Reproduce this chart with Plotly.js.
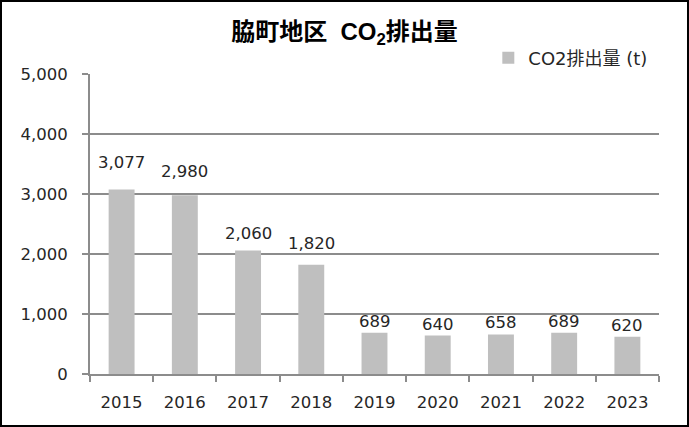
<!DOCTYPE html>
<html>
<head>
<meta charset="utf-8">
<script src="https://cdn.plot.ly/plotly-3.0.1.min.js"></script>
<style>
html,body{margin:0;padding:0;background:#fff;}
#wrap{position:relative;width:689px;height:427px;}
#chart{width:689px;height:427px;}
#frame{position:absolute;left:0;top:0;width:689px;height:427px;box-sizing:border-box;border:2px solid #000;pointer-events:none;}
</style>
</head>
<body>
<div id="wrap"><div id="chart"></div><div id="frame"></div></div>
<script>
const years = ["2015","2016","2017","2018","2019","2020","2021","2022","2023"];
const co2 = [3077, 2980, 2060, 1820, 689, 640, 658, 689, 620];
const seriesName = "CO2排出量 (t)";
const yTicks = [0, 1000, 2000, 3000, 4000, 5000];
const yTickLabels = ["0", "1,000", "2,000", "3,000", "4,000", "5,000"];
// label gap (px) above each bar, as in the reference
const labelGap = [15, 12, 5, 10, 0, 0, 1, 0, 0];

const latinFont = "DejaVu Sans, Noto Sans CJK JP, sans-serif";
const tickFont = {family: latinFont, size: 16.5, color: "#262626"};

const annotations = years.map((yr, i) => ({
  x: i, y: co2[i], xref: "x", yref: "y",
  text: co2[i].toLocaleString("en-US"),
  showarrow: false, yanchor: "bottom", xanchor: "center",
  yshift: labelGap[i],
  font: tickFont
}));

Plotly.newPlot("chart", [{
  type: "bar",
  x: years,
  y: co2,
  name: seriesName,
  marker: {color: "#BFBFBF"},
  hoverinfo: "none"
}], {
  width: 689, height: 427,
  margin: {l: 90, r: 30, t: 74, b: 53},
  paper_bgcolor: "#fff",
  plot_bgcolor: "#fff",
  bargap: 0.59,
  showlegend: true,
  annotations: annotations,
  title: {
    text: "脇町地区\u00a0\u00a0CO<sub>2</sub>排出量",
    x: 0.5, xanchor: "center",
    y: 1 - 32/427, yanchor: "middle",
    font: {family: "Liberation Sans, Noto Sans CJK JP, sans-serif", size: 24, color: "#000", weight: "bold"}
  },
  legend: {
    x: 0.99, xanchor: "right",
    y: 1 + 16/300, yanchor: "middle",
    orientation: "h",
    itemwidth: 30,
    font: {family: latinFont, size: 18, color: "#262626"},
    bgcolor: "rgba(0,0,0,0)"
  },
  xaxis: {
    type: "category",
    range: [-0.5, years.length - 0.5],
    showline: true, linecolor: "#8c8c8c", linewidth: 2,
    ticks: "outside", tickson: "boundaries", ticklen: 6, tickcolor: "#8c8c8c", tickwidth: 2,
    ticklabelstandoff: 12,
    tickfont: tickFont,
    showgrid: false,
    zeroline: false,
    fixedrange: true
  },
  yaxis: {
    range: [0, 5000],
    tickvals: yTicks,
    ticktext: yTickLabels,
    showline: true, linecolor: "#8c8c8c", linewidth: 2,
    ticks: "outside", ticklen: 6, tickcolor: "#8c8c8c", tickwidth: 2,
    ticklabelstandoff: 11,
    tickfont: tickFont,
    showgrid: true, gridcolor: "#8c8c8c", gridwidth: 2,
    zeroline: false,
    fixedrange: true
  }
}, {displayModeBar: false, staticPlot: true});
</script>
</body>
</html>
